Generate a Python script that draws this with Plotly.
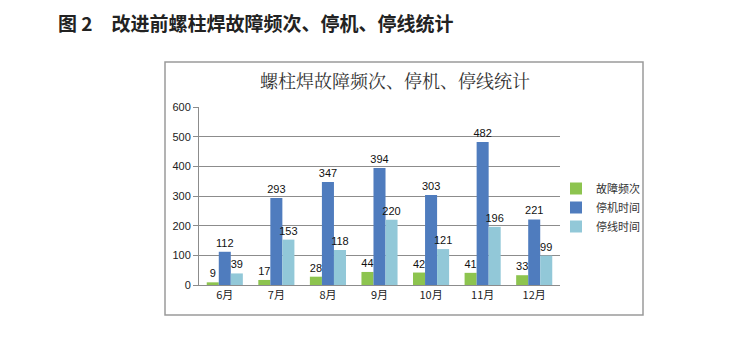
import plotly.graph_objects as go

months = ["6月", "7月", "8月", "9月", "10月", "11月", "12月"]
fault_freq = [9, 17, 28, 44, 42, 41, 33]
stop_time = [112, 293, 347, 394, 303, 482, 221]
line_stop_time = [39, 153, 118, 220, 121, 196, 99]
series_names = ["故障频次", "停机时间", "停线时间"]
colors = ["#8dc44f", "#4f7cbe", "#92c8d8"]

fig = go.Figure()
for name, vals, c in zip(series_names, [fault_freq, stop_time, line_stop_time], colors):
    fig.add_trace(go.Bar(
        x=months, y=vals, name=name, marker=dict(color=c, line=dict(width=0)),
        text=[str(v) for v in vals], textposition="outside", cliponaxis=False,
        constraintext="none",
        textfont=dict(size=11, color="#111", family="Liberation Sans, Arial"),
    ))

L, R, T, B = 199, 560, 107, 285
W, H = 736, 341
fig.update_layout(
    width=W, height=H,
    margin=dict(l=L, r=W - R, t=T, b=H - B),
    paper_bgcolor="white", plot_bgcolor="white",
    barmode="group", bargap=0.3, bargroupgap=0,
    font=dict(family="Noto Sans CJK SC", color="#222"),
    showlegend=True,
    legend=dict(x=(556 - L) / (R - L), y=(285 - 174) / (B - T), xanchor="left", yanchor="top",
                font=dict(size=11, color="#333"), tracegroupgap=0, itemwidth=30,
                bgcolor="rgba(0,0,0,0)"),
    xaxis=dict(showline=True, linecolor="#8c8c8c", ticks="", showgrid=False,
               tickfont=dict(size=11, color="#222")),
    yaxis=dict(range=[0, 600], dtick=100, showline=True, linecolor="#8c8c8c",
               gridcolor="#8c8c8c", gridwidth=1, ticks="outside", ticklen=5,
               tickcolor="#8c8c8c", tickfont=dict(size=11, color="#222", family="Liberation Sans, Arial"),
               zeroline=False),
)

def px(x):
    return (x - L) / (R - L)

def py(y):
    return (B - y) / (B - T)

fig.add_shape(type="rect", xref="paper", yref="paper",
              x0=px(165), x1=px(643), y0=py(315), y1=py(62),
              line=dict(color="#9a9a9a", width=1.5), fillcolor="rgba(0,0,0,0)", layer="below")

fig.add_annotation(xref="paper", yref="paper", x=px(395), y=py(80), text="螺柱焊故障频次、停机、停线统计",
                   showarrow=False, font=dict(size=18, color="#333", family="Noto Serif CJK SC, Noto Sans CJK SC"),
                   xanchor="center", yanchor="middle")

fig.add_annotation(xref="paper", yref="paper", x=px(56), y=py(22),
                   text="<b>图 2　改进前螺柱焊故障频次、停机、停线统计</b>",
                   showarrow=False, font=dict(size=19, color="#222", family="Noto Sans CJK SC"),
                   xanchor="left", yanchor="middle")

fig.write_html("out.html")
